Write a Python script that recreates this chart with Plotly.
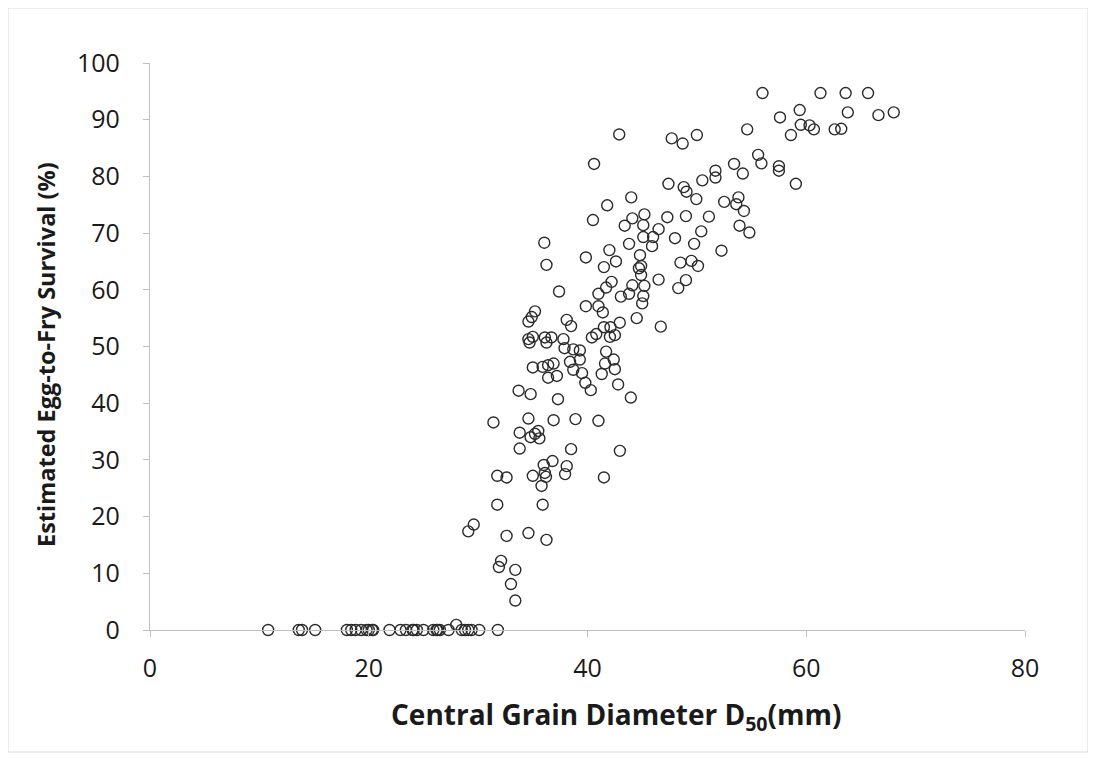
import plotly.graph_objects as go

# Central grain diameter D50 (mm) and estimated egg-to-fry survival (%)
zero_d50 = [10.8, 13.6, 13.9, 15.1, 18.0, 18.4, 18.8, 19.3, 19.8, 20.0, 20.3, 20.4,
            21.9, 22.9, 23.4, 24.0, 24.1, 24.4, 25.0, 25.9, 26.2, 26.3, 26.5, 27.3,
            28.0, 28.5, 28.8, 29.1, 29.4, 30.1, 31.8]
zero_surv = [0, 0, 0, 0, 0, 0, 0, 0, 0, 0, 0, 0,
             0, 0, 0, 0, 0, 0, 0, 0, 0, 0, 0, 0,
             0.9, 0, 0, 0, 0, 0, 0]

d50 = [33.4, 33.0, 33.4, 31.9, 32.1, 36.25, 34.6, 32.6, 29.1, 29.6,
       31.75, 35.9, 35.8, 31.75, 32.6, 35.0, 36.1, 36.2, 37.95, 41.5,
       36.0, 36.8, 38.1, 33.8, 38.5, 42.96, 33.8, 34.8, 35.5, 35.2,
       35.6, 31.4, 34.6, 36.9, 38.9, 41.0, 33.7, 34.8, 37.3, 40.3,
       39.8, 42.8, 43.96, 36.4, 37.2, 39.5, 41.3, 38.7, 42.5, 35.0,
       35.9, 36.4, 36.9, 38.4, 39.3, 41.6, 42.4, 41.7, 37.9, 38.7,
       39.3, 37.8, 34.6, 34.7, 35.0, 36.1, 36.25, 36.7, 40.4, 40.8,
       42.05, 42.5, 41.5, 42.1, 42.95, 38.1, 38.5, 35.2, 34.9, 34.6,
       44.5, 46.7, 39.85, 41.0, 41.4, 45.0, 45.1, 43.05, 43.8, 41.0,
       37.4, 41.7, 42.2, 44.1, 45.2, 46.5, 48.3, 49.0, 44.9, 44.7,
       44.9, 41.5, 42.6, 36.25, 39.85, 42.0, 44.8, 45.9, 43.8, 36.05,
       48.5, 49.5, 50.1, 52.25, 49.75, 46.0, 45.1, 48.0, 50.4, 53.9,
       54.8, 46.5, 45.1, 43.4, 40.5, 44.1, 45.2, 47.3, 49.0, 51.1,
       54.3, 41.8, 44.0, 49.95, 52.5, 53.8, 53.6, 47.4, 48.8, 49.05,
       50.5, 51.7, 51.7, 53.4, 54.2, 55.6, 55.9, 57.5, 57.5, 59.05,
       40.6, 42.9, 47.7, 48.7, 50.0, 54.6, 56.0, 57.6, 58.6, 59.4,
       59.5, 60.3, 60.7, 61.3, 62.6, 63.2, 63.6, 63.8, 65.65, 66.6,
       68.0]
survival = [5.2, 8.1, 10.6, 11.1, 12.2, 15.9, 17.1, 16.6, 17.4, 18.6,
            22.1, 22.1, 25.4, 27.2, 26.9, 27.2, 27.7, 27.0, 27.5, 26.9,
            29.1, 29.8, 28.9, 32.0, 31.9, 31.6, 34.8, 34.0, 35.1, 34.6,
            33.8, 36.6, 37.3, 37.0, 37.2, 36.9, 42.2, 41.6, 40.7, 42.3,
            43.6, 43.3, 41.0, 44.5, 44.8, 45.3, 45.15, 45.9, 46.0, 46.3,
            46.4, 46.7, 47.0, 47.3, 47.7, 47.0, 47.7, 49.1, 49.7, 49.5,
            49.3, 51.3, 51.3, 50.7, 51.7, 51.6, 50.7, 51.6, 51.6, 52.2,
            51.7, 52.0, 53.4, 53.4, 54.2, 54.7, 53.6, 56.2, 55.2, 54.4,
            55.0, 53.5, 57.1, 57.1, 56.0, 57.6, 58.9, 58.8, 59.3, 59.3,
            59.7, 60.4, 61.4, 60.8, 60.7, 61.8, 60.3, 61.7, 62.6, 63.8,
            64.2, 64.0, 65.0, 64.4, 65.7, 67.0, 66.1, 67.7, 68.1, 68.3,
            64.8, 65.1, 64.2, 66.9, 68.1, 69.3, 69.3, 69.1, 70.3, 71.3,
            70.1, 70.7, 71.4, 71.3, 72.3, 72.6, 73.3, 72.8, 73.0, 72.9,
            73.9, 74.9, 76.3, 76.0, 75.5, 76.3, 75.1, 78.7, 78.1, 77.3,
            79.3, 81.0, 79.8, 82.2, 80.5, 83.8, 82.3, 81.8, 81.0, 78.7,
            82.2, 87.4, 86.7, 85.8, 87.3, 88.3, 94.7, 90.4, 87.3, 91.7,
            89.1, 89.0, 88.3, 94.7, 88.3, 88.4, 94.7, 91.3, 94.7, 90.8,
            91.3]

x_all = zero_d50 + d50
y_all = zero_surv + survival

x_title = "<b>Central Grain Diameter D<sub>50</sub>(mm)</b>"
y_title = "<b>Estimated Egg-to-Fry Survival (%)</b>"

FONT = "Open Sans, Arial, sans-serif"

fig = go.Figure()
fig.add_trace(go.Scatter(
    x=x_all, y=y_all, mode="markers",
    marker=dict(symbol="circle-open", size=11, color="#2b2b2b",
                line=dict(width=1.4, color="#2b2b2b")),
    cliponaxis=False, showlegend=False,
))

fig.update_layout(
    width=1096, height=761,
    paper_bgcolor="white", plot_bgcolor="white",
    margin=dict(l=142, r=79, t=55, b=139),
    font=dict(family=FONT, color="#1a1a1a"),
    xaxis=dict(
        range=[0, 80], tickvals=[0, 20, 40, 60, 80],
        showgrid=False, zeroline=False,
        showline=True, linecolor="#bfbfbf", linewidth=1.3,
        ticks="outside", ticklen=6, tickcolor="#bfbfbf",
        ticklabelstandoff=10,
        tickfont=dict(size=25, family=FONT, color="#1a1a1a"),
    ),
    yaxis=dict(
        range=[0, 100], tickvals=list(range(0, 101, 10)),
        showgrid=False, zeroline=False,
        showline=True, linecolor="#bfbfbf", linewidth=1.3,
        ticks="outside", ticklen=6, tickcolor="#bfbfbf",
        ticklabelstandoff=18,
        tickfont=dict(size=25, family=FONT, color="#1a1a1a"),
    ),
    annotations=[
        dict(text=x_title, xref="paper", yref="paper",
             x=(616 - 150) / 875, y=(630 - 716) / 567,
             xanchor="center", yanchor="middle", showarrow=False,
             font=dict(size=28, family=FONT, color="#1a1a1a")),
        dict(text=y_title, xref="paper", yref="paper", textangle=-90,
             x=(46 - 150) / 875, y=(630 - 355) / 567,
             xanchor="center", yanchor="middle", showarrow=False,
             font=dict(size=23.5, family=FONT, color="#1a1a1a")),
    ],
)

# light outer frame of the chart area
fig.add_shape(type="rect", xref="paper", yref="paper",
              x0=(8 - 150) / 875, x1=(1088 - 150) / 875,
              y0=(630 - 752) / 567, y1=(630 - 8) / 567,
              line=dict(color="#d9d9d9", width=1), layer="below")

fig.write_html("out.html")
